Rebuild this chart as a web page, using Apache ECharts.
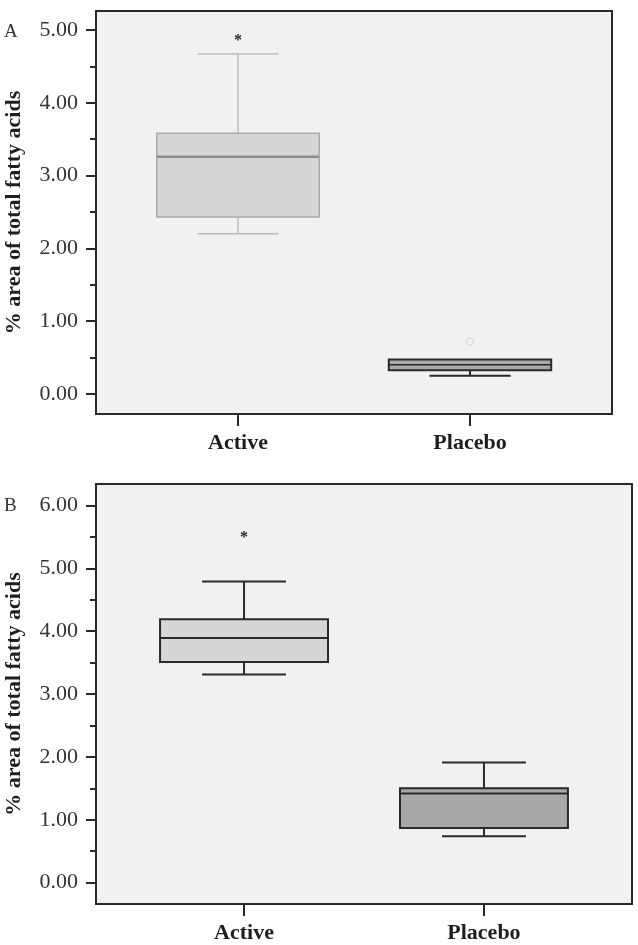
<!DOCTYPE html>
<html><head><meta charset="utf-8">
<script src="https://cdn.jsdelivr.net/npm/echarts@6/dist/echarts.min.js"></script>
<style>html,body{margin:0;padding:0;background:#fff}#c{width:638px;height:945px}</style>
</head><body><div id="c"></div>
<script>
// ---------- data ----------
const categories = ['Active', 'Placebo'];
// five-number summaries: [min, Q1, median, Q3, max]
const boxA_active  = [2.20, 2.43, 3.26, 3.58, 4.67];
const boxA_placebo = [0.25, 0.325, 0.40, 0.475, 0.475];
const extremesA_active  = [4.89];   // "*"
const outliersA_placebo = [0.72];   // "o"
const boxB_active  = [3.31, 3.51, 3.89, 4.19, 4.79];
const boxB_placebo = [0.74, 0.87, 1.42, 1.50, 1.91];
const extremesB_active = [5.53];    // "*"
const yTicksA = [0, 1, 2, 3, 4, 5];
const yMinorA = [0.5, 1.5, 2.5, 3.5, 4.5];
const yTicksB = [0, 1, 2, 3, 4, 5, 6];
const yMinorB = [0.5, 1.5, 2.5, 3.5, 4.5, 5.5];
const yTitle = '% area of total fatty acids';

// ---------- styles ----------
const SERIF = '"Liberation Serif", "Times New Roman", serif';
const DARK = '#2a2a2a';
const stylesA = [
  {fill: '#d6d6d8', stroke: '#a9a9a9', lw: 1.5, med: '#8c8c8c', medW: 2.5, wh: '#bcbcbc', whW: 1.5},
  {fill: '#a9a9ab', stroke: DARK, lw: 2, med: DARK, medW: 1.5, wh: DARK, whW: 2}
];
const stylesB = [
  {fill: '#d6d6d8', stroke: DARK, lw: 2, med: DARK, medW: 2, wh: DARK, whW: 2},
  {fill: '#a8a8aa', stroke: DARK, lw: 2, med: DARK, medW: 2, wh: DARK, whW: 2}
];

function boxRender(styles) {
  return function (params, api) {
    const idx = api.value(0);
    const st = styles[idx];
    const band = api.size([1, 0])[0];
    const hw = band * 0.35, cw = band * 0.175;
    const x = api.coord([idx, 0])[0];
    const y = d => api.coord([idx, api.value(d)])[1];
    const yMin = y(1), yQ1 = y(2), yMed = y(3), yQ3 = y(4), yMax = y(5);
    const ln = (x1, y1, x2, y2, c, w) => ({type: 'line', shape: {x1, y1, x2, y2}, style: {stroke: c, lineWidth: w}});
    const ch = [];
    if (yMax < yQ3 - 0.5) { ch.push(ln(x, yQ3, x, yMax, st.wh, st.whW)); ch.push(ln(x - cw, yMax, x + cw, yMax, st.wh, st.whW)); }
    if (yMin > yQ1 + 0.5) { ch.push(ln(x, yQ1, x, yMin, st.wh, st.whW)); ch.push(ln(x - cw, yMin, x + cw, yMin, st.wh, st.whW)); }
    ch.push({type: 'rect', shape: {x: x - hw, y: yQ3, width: 2 * hw, height: yQ1 - yQ3},
      style: {fill: st.fill, stroke: st.stroke, lineWidth: st.lw}});
    ch.push(ln(x - hw, yMed, x + hw, yMed, st.med, st.medW));
    return {type: 'group', children: ch};
  };
}
function pointRender(params, api) {
  const p = api.coord([api.value(0), api.value(1)]);
  if (api.value(2) === 1) {
    return {type: 'text', x: p[0], y: p[1] + 3, style: {text: '*', font: 'bold 16px ' + SERIF, fill: DARK, align: 'center', verticalAlign: 'middle'}};
  }
  return {type: 'circle', shape: {cx: p[0], cy: p[1], r: 3.5}, style: {fill: 'none', stroke: '#dcdcdc', lineWidth: 1.5}};
}

// major axis: labels + long ticks
function yMajor(gridIndex, ticks, min, max) {
  return {
    gridIndex, type: 'value', position: 'left', offset: 0, min, max,
    name: yTitle, nameLocation: 'middle', nameGap: 71,
    nameTextStyle: {fontFamily: SERIF, fontWeight: 'bold', fontSize: 22, color: '#1e1e1e'},
    axisLine: {show: false, onZero: false},
    axisTick: {show: true, inside: false, length: 10, customValues: ticks, lineStyle: {color: DARK, width: 2}},
    splitLine: {show: false},
    axisLabel: {margin: 18, customValues: ticks, fontFamily: SERIF, fontSize: 22, color: '#333', formatter: v => v.toFixed(2)}
  };
}
// minor ticks only
function yMinorAxis(gridIndex, ticks, min, max) {
  return {
    gridIndex, type: 'value', position: 'left', offset: 0, min, max,
    axisLine: {show: false, onZero: false},
    axisTick: {show: true, inside: false, length: 6, customValues: ticks, lineStyle: {color: DARK, width: 2}},
    axisLabel: {show: false}, splitLine: {show: false}
  };
}
function xCat(gridIndex, min, max) {
  return {
    gridIndex, type: 'value', position: 'bottom', offset: 0, min, max,
    axisLine: {show: false, onZero: false},
    axisTick: {show: true, inside: false, length: 12, customValues: [0, 1], lineStyle: {color: DARK, width: 2}},
    axisLabel: {margin: 18, customValues: [0, 1], formatter: v => categories[Math.round(v)],
      fontFamily: SERIF, fontWeight: 'bold', fontSize: 22, color: '#1e1e1e'},
    splitLine: {show: false}
  };
}

const chart = echarts.init(document.getElementById('c'));
chart.setOption({
  animation: false,
  backgroundColor: '#ffffff',
  grid: [
    {left: 96, top: 11, width: 516, height: 403, containLabel: false, outerBoundsMode: 'none',
      show: true, backgroundColor: '#f1f1f3', borderColor: DARK, borderWidth: 2},
    {left: 96, top: 484, width: 536, height: 420, containLabel: false, outerBoundsMode: 'none',
      show: true, backgroundColor: '#f1f1f3', borderColor: DARK, borderWidth: 2}
  ],
  xAxis: [xCat(0, -0.612, 1.612), xCat(1, -0.617, 1.617)],
  yAxis: [
    yMajor(0, yTicksA, -0.275, 5.261), yMinorAxis(0, yMinorA, -0.275, 5.261),
    yMajor(1, yTicksB, -0.339, 6.34), yMinorAxis(1, yMinorB, -0.339, 6.34)
  ],
  graphic: [
    {type: 'text', left: 4, top: 23, style: {text: 'A', font: '19px ' + SERIF, fill: '#333'}},
    {type: 'text', left: 4, top: 497, style: {text: 'B', font: '19px ' + SERIF, fill: '#333'}}
  ],
  series: [
    {type: 'custom', xAxisIndex: 0, yAxisIndex: 0, renderItem: boxRender(stylesA),
      encode: {x: 0, y: [1, 2, 3, 4, 5]},
      data: [[0].concat(boxA_active), [1].concat(boxA_placebo)]},
    {type: 'custom', xAxisIndex: 0, yAxisIndex: 0, renderItem: pointRender, encode: {x: 0, y: 1},
      data: extremesA_active.map(v => [0, v, 1]).concat(outliersA_placebo.map(v => [1, v, 0]))},
    {type: 'custom', xAxisIndex: 1, yAxisIndex: 2, renderItem: boxRender(stylesB),
      encode: {x: 0, y: [1, 2, 3, 4, 5]},
      data: [[0].concat(boxB_active), [1].concat(boxB_placebo)]},
    {type: 'custom', xAxisIndex: 1, yAxisIndex: 2, renderItem: pointRender, encode: {x: 0, y: 1},
      data: extremesB_active.map(v => [0, v, 1])}
  ]
});
</script>
</body></html>
